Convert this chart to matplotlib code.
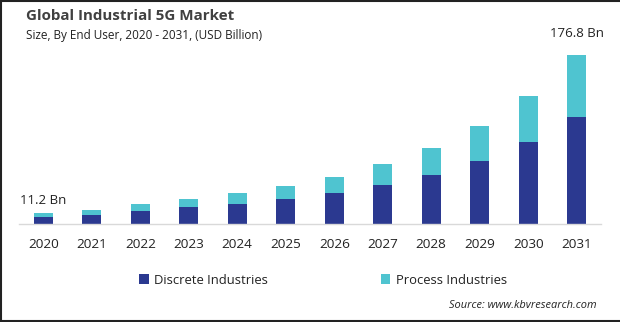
import matplotlib
matplotlib.use("Agg")
import matplotlib.pyplot as plt
from matplotlib.patches import Patch
from matplotlib.lines import Line2D

years = ["2020", "2021", "2022", "2023", "2024", "2025", "2026", "2027", "2028", "2029", "2030", "2031"]
discrete = [6.8, 9.4, 13.6, 17.8, 20.9, 26.2, 32.4, 40.8, 51.3, 65.9, 85.8, 112.0]
process = [4.4, 5.2, 7.3, 8.4, 11.5, 13.5, 16.8, 22.0, 28.2, 36.6, 48.1, 64.8]
labels = {0: "11.2 Bn", 11: "176.8 Bn"}

NAVY = "#2B3990"
CYAN = "#4FC4D0"
TXT = "#222222"

plt.rcParams['font.family'] = ['Open Sans', 'DejaVu Sans']

fig = plt.figure(figsize=(6.2, 3.22), dpi=100)
W, H = 620, 322
ax = fig.add_axes([19 / W, 98 / H, 582 / W, 174 / H])

x = list(range(len(years)))
ax.bar(x, discrete, width=0.4, color=NAVY, zorder=2)
ax.bar(x, process, width=0.4, bottom=discrete, color=CYAN, zorder=2)

ax.set_xlim(-0.5, 11.5)
ax.set_ylim(0, 182)
for s in ["top", "right", "left"]:
    ax.spines[s].set_visible(False)
ax.spines["bottom"].set_color("#d9d9d9")
ax.spines["bottom"].set_linewidth(1.0)
ax.set_yticks([])
ax.set_xticks(x)
ax.set_xticklabels(years, fontsize=9.7, color=TXT)
ax.tick_params(axis="x", length=0, pad=10)

offsets = {0: 13, 11: 21}
for i, t in labels.items():
    tot = discrete[i] + process[i]
    ax.annotate(t, (i, tot), xytext=(0, offsets[i] * 0.72), textcoords="offset points",
                ha="center", va="center", fontsize=9.5, color=TXT)

fig.text(26 / W, 1 - 16 / H, "Global Industrial 5G Market", fontsize=10.9, fontweight="bold",
         color="#404040", ha="left", va="center")
fig.text(26 / W, 1 - 35 / H, "Size, By End User, 2020 - 2031, (USD Billion)", fontsize=8.45,
         color=TXT, ha="left", va="center")

handles = [Patch(facecolor=NAVY, edgecolor="none"), Patch(facecolor=CYAN, edgecolor="none")]
fig.legend(handles, ["Discrete Industries", "Process Industries"], loc="center",
           bbox_to_anchor=(323 / W, 1 - 280 / H), ncol=2, frameon=False, fontsize=9.4,
           handlelength=0.75, handleheight=0.75, handletextpad=0.4, columnspacing=8.6,
           labelcolor=TXT)

fig.text(597 / W, 1 - 306 / H, "Source: www.kbvresearch.com", fontsize=7.9, style="italic",
         color=TXT, ha="right", va="center")

# frame lines (left, top, bottom)
for xs, ys, lw in [([0.5 / W, 0.5 / W], [0, 1], 1.5), ([0, 1], [1 - 0.5 / H, 1 - 0.5 / H], 1.5),
                   ([0, 1], [0.75 / H, 0.75 / H], 1.5)]:
    fig.add_artist(Line2D(xs, ys, color="#222222", linewidth=lw, transform=fig.transFigure))

fig.savefig("out.png", dpi=100)
